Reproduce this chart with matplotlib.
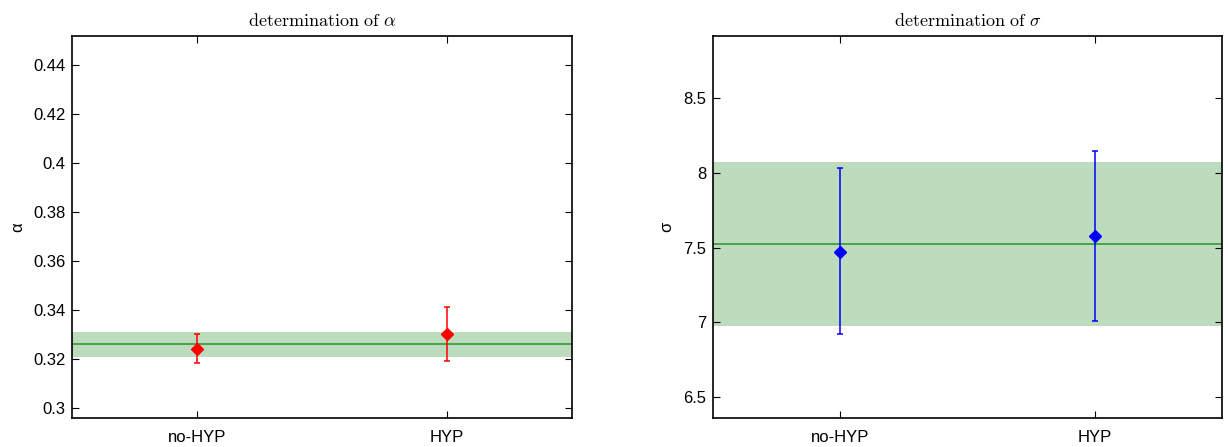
import numpy as np
import matplotlib
matplotlib.use('Agg')
import matplotlib.pyplot as plt

plt.rcParams['font.family'] = ['Liberation Sans', 'DejaVu Sans']
plt.rcParams['mathtext.fontset'] = 'cm'

labels = ['no-HYP', 'HYP']

# alpha panel
alpha_val = [0.3242, 0.3301]
alpha_lo = [0.3184, 0.3192]
alpha_hi = [0.3302, 0.3411]
alpha_mean = 0.3262
alpha_band = (0.3209, 0.3310)

# sigma panel
sigma_val = [7.473, 7.575]
sigma_lo = [6.920, 7.007]
sigma_hi = [8.033, 8.145]
sigma_mean = 7.527
sigma_band = (6.977, 8.076)

BAND = '#bddcbd'
LINE = '#2a922a'


def panel(ax, val, lo, hi, mean, band, color, ylim, yticks, ylabel, title):
    x = np.arange(1, len(val) + 1)
    ax.axhspan(band[0], band[1], color=BAND, lw=0, zorder=0)
    ax.axhline(mean, color=LINE, lw=1.1, zorder=1)
    err = [np.array(val) - np.array(lo), np.array(hi) - np.array(val)]
    ax.errorbar(x, val, yerr=err, fmt='D', color=color, ms=6, lw=1.1,
                capsize=2.5, capthick=1.1, zorder=3)
    ax.set_xlim(0.5, len(val) + 0.5)
    ax.set_xticks(x)
    ax.set_xticklabels(labels)
    ax.set_ylim(*ylim)
    ax.set_yticks(yticks)
    ax.set_yticklabels([f'{t:g}' for t in yticks])
    ax.tick_params(direction='in', top=True, right=True, length=5,
                   labelsize=12)
    ax.tick_params(axis='x', pad=9)
    ax.tick_params(axis='y', pad=5)
    for s in ax.spines.values():
        s.set_linewidth(1.2)
    ax.set_ylabel(ylabel, fontsize=12, labelpad=6)
    ax.set_title(title, fontsize=13, pad=7)


fig = plt.figure(figsize=(12.28, 4.47), dpi=100)
ax1 = fig.add_axes([0.0590, 0.0655, 0.4065, 0.8546])
ax2 = fig.add_axes([0.5806, 0.0655, 0.4145, 0.8546])

panel(ax1, alpha_val, alpha_lo, alpha_hi, alpha_mean, alpha_band, 'red',
      (0.296, 0.452), [0.3, 0.32, 0.34, 0.36, 0.38, 0.4, 0.42, 0.44],
      'α', r'$\mathrm{determination\ of}\ \alpha$')
panel(ax2, sigma_val, sigma_lo, sigma_hi, sigma_mean, sigma_band, 'blue',
      (6.36, 8.92), [6.5, 7, 7.5, 8, 8.5],
      'σ', r'$\mathrm{determination\ of}\ \sigma$')

fig.savefig('out.png', dpi=100)
